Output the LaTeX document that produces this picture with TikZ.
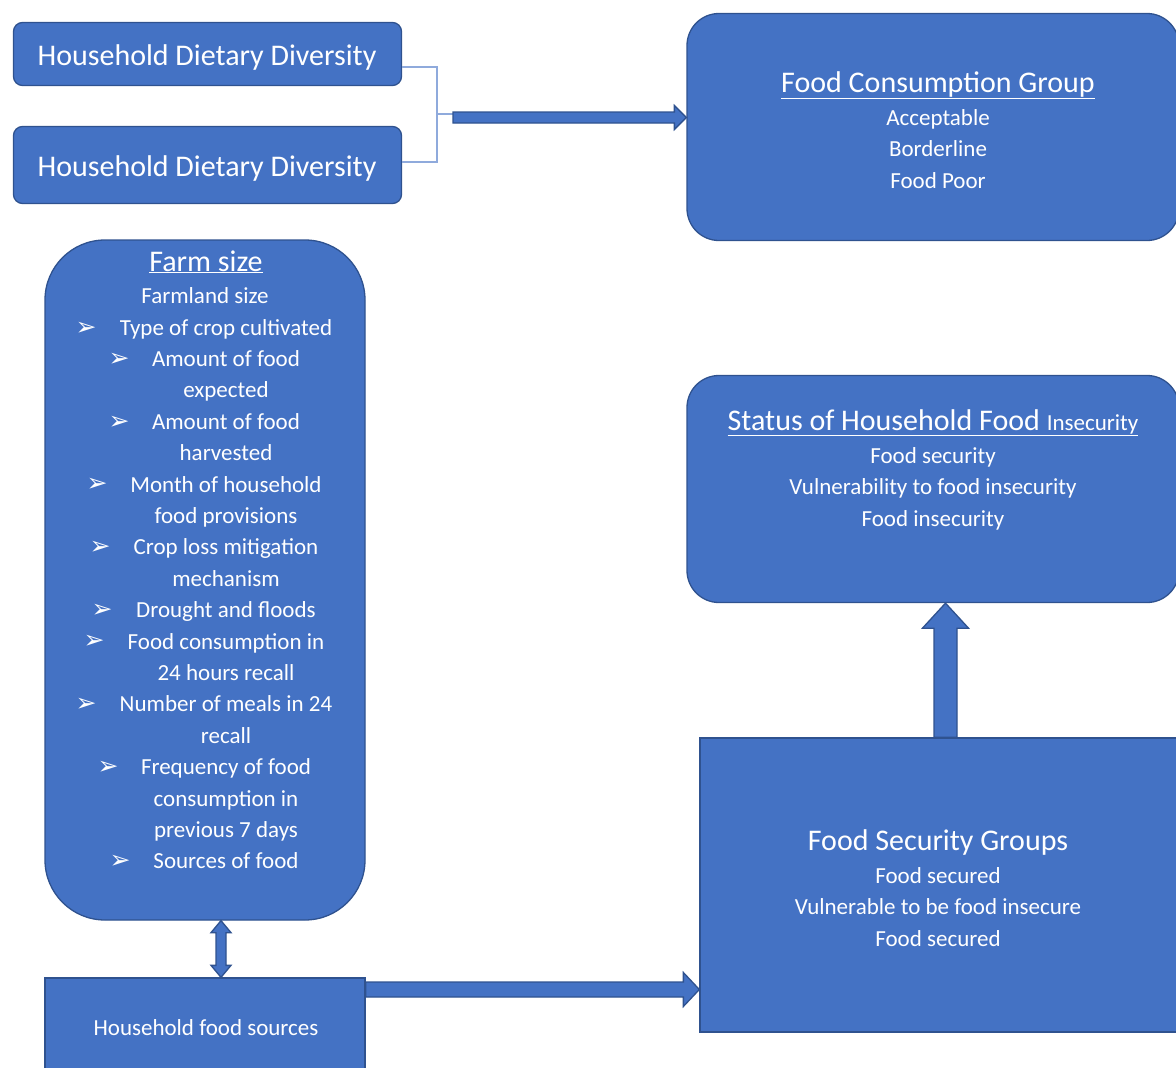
\documentclass[tikz,border=0pt]{standalone}
\usepackage{fontspec}
\setmainfont{Carlito}
\newfontfamily\symfont{DejaVu Sans}
\usetikzlibrary{calc}

\definecolor{boxblue}{HTML}{4472C4}
\definecolor{boxline}{HTML}{2F528F}
\definecolor{linkblue}{HTML}{8FAADC}

\tikzset{
	box/.style={draw=boxline, fill=boxblue, line width=1.3pt, inner sep=0pt},
	title/.style={text=white, font=\fontsize{30}{36}\selectfont, anchor=base, inner sep=0pt},
	body/.style={text=white, font=\fontsize{23}{31.4}\selectfont, align=center, anchor=base, inner sep=0pt},
	bullet/.style={text=white, font=\symfont\fontsize{25}{28}\selectfont, anchor=base, inner sep=0pt},
	blockarrow/.style={draw=boxline, fill=boxblue, line width=1.3pt, line join=miter},
	link/.style={draw=linkblue, line width=1.4pt},
}

\begin{document}
\begin{tikzpicture}[x=1pt, y=-1pt]
	\useasboundingbox (0,0) rectangle (1176,1068);
	\clip (0,0) rectangle (1176,1068);

	% boxes
	\node [box, rounded corners=9pt, minimum width=388pt, minimum height=63pt] (hdd1) at (207.5,54) {};
	\node [box, rounded corners=9pt, minimum width=388pt, minimum height=77pt] (hdd2) at (207.5,165) {};
	\node [box, rounded corners=32pt, minimum width=492pt, minimum height=227pt] (fcg) at (933,127) {};
	\node [box, rounded corners=32pt, minimum width=492pt, minimum height=227pt] (status) at (933,489) {};
	\node [box, minimum width=480pt, minimum height=294pt] (fsg) at (940,885) {};
	\node [box, rounded corners=60pt, minimum width=320pt, minimum height=680pt] (farm) at (205,580) {};
	\node [box, minimum width=320pt, minimum height=110pt] (hfs) at (205,1033) {};

	% texts (multi-line nodes sit on the baseline of their last line)
	\node [title] (hdd1text) at (207,65) {Household Dietary Diversity};
	\node [title] (hdd2text) at (207,176) {Household Dietary Diversity};
	\node [title] (fcgtitle) at (938,92) {\underline{Food Consumption Group}};
	\node [body] (fcgbody) at (938,188) {Acceptable\\Borderline\\Food Poor};
	\node [title] (statustitle) at (933,430) {\underline{Status of Household Food {\fontsize{23}{28}\selectfont Insecurity}}};
	\node [body] (statusbody) at (933,526) {Food security\\Vulnerability to food insecurity\\Food insecurity};
	\node [title] (fsgtitle) at (938,850) {Food Security Groups};
	\node [body] (fsgbody) at (938,946) {Food secured\\Vulnerable to be food insecure\\Food secured};
	\node [title] (farmtitle) at (206,271) {\underline{Farm size}};
	\node [body] (farmland) at (205,303) {Farmland size};
	\node [body] (farmlist) at (226,868.8) {Type of crop cultivated\\Amount of food\\expected\\Amount of food\\harvested\\Month of household\\food provisions\\Crop loss mitigation\\mechanism\\Drought and floods\\Food consumption in\\24 hours recall\\Number of meals in 24\\recall\\Frequency of food\\consumption in\\previous 7 days\\Sources of food};
	\node [body] (hfstext) at (206,1035) {Household food sources};

	% bullets
	\node [bullet] (b1) at (86,335) {➢};
	\node [bullet] (b2) at (119,366.4) {➢};
	\node [bullet] (b3) at (119,429.2) {➢};
	\node [bullet] (b4) at (97,491.9) {➢};
	\node [bullet] (b5) at (100,554.7) {➢};
	\node [bullet] (b6) at (102,617.5) {➢};
	\node [bullet] (b7) at (94,648.9) {➢};
	\node [bullet] (b8) at (86,711.7) {➢};
	\node [bullet] (b9) at (108,774.5) {➢};
	\node [bullet] (b10) at (120,868.7) {➢};

	% bracket joining the two diversity boxes
	\coordinate (join) at (437,114);
	\coordinate (fcgfeed) at (453,117.5);
	\coordinate (fcgtip) at (fcg.west |- fcgfeed);
	\draw [link] ($(hdd1.east)+(0,13)$) -| (join) |- ($(hdd2.east)+(0,-3)$);
	\draw [link] (join) -- (fcgfeed |- join);
	\draw [blockarrow] ($(fcgfeed)+(0,-5.5)$) -- ($(fcgtip)+(-12,-5.5)$) -- ($(fcgtip)+(-12,-12)$) -- (fcgtip)
		-- ($(fcgtip)+(-12,12)$) -- ($(fcgtip)+(-12,5.5)$) -- ($(fcgfeed)+(0,5.5)$) -- cycle;

	% farm size <-> household food sources
	\coordinate (dtop) at ($(farm.south)+(16,0)$);
	\coordinate (dbot) at ($(hfs.north)+(16,0)$);
	\draw [blockarrow] (dtop) -- ($(dtop)+(10,12)$) -- ($(dtop)+(5,12)$) -- ($(dbot)+(5,-12)$) -- ($(dbot)+(10,-12)$)
		-- (dbot) -- ($(dbot)+(-10,-12)$) -- ($(dbot)+(-5,-12)$) -- ($(dtop)+(-5,12)$) -- ($(dtop)+(-10,12)$) -- cycle;

	% household food sources -> food security groups
	\coordinate (hfsout) at ($(hfs.east)+(0,-43.5)$);
	\coordinate (fsgin) at (fsg.west |- hfsout);
	\draw [blockarrow] ($(hfsout)+(0,-7.5)$) -- ($(fsgin)+(-16,-7.5)$) -- ($(fsgin)+(-16,-17)$) -- (fsgin)
		-- ($(fsgin)+(-16,17)$) -- ($(fsgin)+(-16,7.5)$) -- ($(hfsout)+(0,7.5)$) -- cycle;

	% food security groups -> status
	\coordinate (fsgout) at ($(fsg.north)+(5.5,0)$);
	\coordinate (statusin) at (status.south -| fsgout);
	\draw [blockarrow] ($(fsgout)+(-11.5,0)$) -- ($(statusin)+(-11.5,25)$) -- ($(statusin)+(-23,25)$) -- (statusin)
		-- ($(statusin)+(23,25)$) -- ($(statusin)+(11.5,25)$) -- ($(fsgout)+(11.5,0)$) -- cycle;

\end{tikzpicture}
\end{document}
